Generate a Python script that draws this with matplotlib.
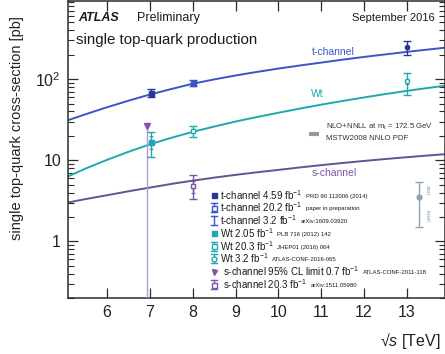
import matplotlib
matplotlib.use("Agg")
import matplotlib.pyplot as plt
from matplotlib.ticker import NullFormatter, LogLocator, FixedLocator

plt.rcParams['font.family'] = ['Liberation Sans', 'DejaVu Sans']
plt.rcParams['mathtext.fontset'] = 'custom'
plt.rcParams['mathtext.rm'] = 'Liberation Sans'
plt.rcParams['mathtext.it'] = 'Liberation Sans:italic'
plt.rcParams['mathtext.bf'] = 'Liberation Sans:bold'

# ---------------- data ----------------
sqrt_s_theory = [5, 5.5, 6, 6.5, 7, 7.5, 8, 8.5, 9, 9.5, 10, 10.5, 11, 11.5, 12, 12.5, 13, 13.5, 14]
theory_t = [30, 36.9, 45, 54.2, 64.6, 75.5, 87.8, 99.2, 111, 122.8, 135, 147.3, 160, 173.8,
            188, 202, 217, 232, 248]
theory_wt = [6.0, 7.9, 10.1, 12.7, 15.7, 18.9, 22.4, 26.0, 30.0, 34.1, 38.5, 43.3, 48.5, 53.8,
             59.5, 65.5, 71.7, 78.0, 84.4]
theory_s = [2.95, 3.32, 3.7, 4.14, 4.6, 5.1, 5.6, 6.1, 6.6, 7.1, 7.6, 8.15, 8.7, 9.25,
            9.8, 10.35, 10.9, 11.45, 12.0]

# measurements
t7_x, t7_y, t7_err, t7_stat = 7.02, 68.0, [8.0, 8.0], 2.4
t8_x, t8_y, t8_err, t8_stat = 8.0, 89.6, [7.1, 7.1], 1.7
t13_x, t13_y, t13_err, t13_stat = 13.0, 247.0, [46.0, 46.0], 12.0
wt7_x, wt7_y, wt7_err, wt7_stat = 7.02, 16.8, [5.7, 5.7], 2.9
wt8_x, wt8_y, wt8_err, wt8_stat = 8.0, 23.0, [3.7, 3.7], 1.4
wt13_x, wt13_y, wt13_err, wt13_stat = 13.0, 94.0, [30.0, 24.0], 7.0
slim7_x, slim7_y = 6.93, 26.5
s8_x, s8_y, s8_err, s8_stat = 8.0, 4.8, [1.5, 1.8], 0.8
leg_x, leg_y, leg_err = 13.28, 3.5, [2.0, 1.85]

xticks = [6, 7, 8, 9, 10, 11, 12, 13]
yticks = [1, 10, 100]
ytick_labels = ['1', '10', '$10^2$']

legend_main = [
    't-channel 4.59 fb$^{-1}$', 't-channel 20.2 fb$^{-1}$', 't-channel 3.2 fb$^{-1}$',
    'Wt 2.05 fb$^{-1}$', 'Wt 20.3 fb$^{-1}$', 'Wt 3.2 fb$^{-1}$',
    's-channel 95% CL limit 0.7 fb$^{-1}$', 's-channel 20.3 fb$^{-1}$']
legend_refs = [
    'PRD 90 112006 (2014)', 'paper in preparation', 'arXiv:1609.03920',
    'PLB 716 (2012) 142', 'JHEP01 (2016) 064', 'ATLAS-CONF-2016-065',
    'ATLAS-CONF-2011-118', 'arXiv:1511.05980']

# ---------------- style ----------------
c_t = '#3b55c8'
c_t_dark = '#2a3596'
c_wt = '#1fa8b0'
c_s = '#5e5596'
c_s_pt = '#7b55a8'
c_slim = '#b596d6'
c_gray = '#8fa3b3'
c_ax = '#2b2b2b'

W, H = 445, 354
fig = plt.figure(figsize=(W / 100, H / 100), dpi=100)
L, R, B, T = 68, 445, 298, 1
ax = fig.add_axes([L / W, (H - B) / H, (R - L) / W, (B - T) / H])
ax.set_yscale('log')
ax.set_xlim(5.09, 13.89)
ax.set_ylim(0.2, 920)

def axfrac(px, py):
    return ((px - L) / (R - L), (B - py) / (B - T))

# theory curves
ax.plot(sqrt_s_theory, theory_t, color=c_t, lw=1.4, zorder=2)
ax.plot(sqrt_s_theory, theory_wt, color=c_wt, lw=1.4, zorder=2)
ax.plot(sqrt_s_theory, theory_s, color=c_s, lw=1.4, zorder=2)

def meas(x, y, err, stat, color, marker, mfc, ms=3.6):
    ax.errorbar([x], [y], yerr=[[err[0]], [err[1]]], fmt='none', ecolor=color,
                elinewidth=1.0, capsize=2.6, capthick=1.0, zorder=4)
    ax.errorbar([x], [y], yerr=[[stat], [stat]], fmt='none', ecolor=color,
                elinewidth=1.0, capsize=1.6, capthick=0.8, zorder=4)
    ax.plot([x], [y], marker=marker, ms=ms, color=color, mfc=mfc, mec=color,
            mew=1.0, zorder=5, ls='none')

meas(t7_x, t7_y, t7_err, t7_stat, c_t_dark, 's', c_t_dark)
meas(t8_x, t8_y, t8_err, t8_stat, c_t, 's', c_t)
meas(t13_x, t13_y, t13_err, t13_stat, c_t_dark, 'o', c_t_dark, ms=3.0)
meas(wt7_x, wt7_y, wt7_err, wt7_stat, c_wt, 's', c_wt)
meas(wt8_x, wt8_y, wt8_err, wt8_stat, c_wt, 's', 'white', ms=2.6)
meas(wt13_x, wt13_y, wt13_err, wt13_stat, c_wt, 'o', 'white', ms=3.0)
meas(s8_x, s8_y, s8_err, s8_stat, c_s_pt, 's', 'white', ms=2.6)

# s-channel limit
ax.plot([slim7_x, slim7_x], [0.2, slim7_y], color=c_slim, lw=1.0, zorder=3)
ax.plot([slim7_x], [slim7_y], marker='v', ms=3.8, color=c_s_pt, zorder=5)

# stat/total legend point
ax.errorbar([leg_x], [leg_y], yerr=[[leg_err[0]], [leg_err[1]]], fmt='o', ms=3.5,
            color=c_gray, elinewidth=1.0, capsize=2.6, capthick=1.0, zorder=4)
ax.text(*axfrac(427, 190), 'stat', transform=ax.transAxes, rotation=-90,
        fontsize=4.5, color=c_gray, ha='center', va='center')
ax.text(*axfrac(427, 216), 'total', transform=ax.transAxes, rotation=-90,
        fontsize=4.5, color=c_gray, ha='center', va='center')

# axes styling
ax.set_xticks(xticks)
ax.set_xticklabels([str(v) for v in xticks])
ax.xaxis.set_minor_locator(FixedLocator([]))
ax.yaxis.set_major_locator(FixedLocator(yticks))
ax.set_yticklabels(ytick_labels)
ax.yaxis.set_minor_locator(LogLocator(base=10, subs=range(2, 10), numticks=20))
ax.yaxis.set_minor_formatter(NullFormatter())
ax.tick_params(axis='both', which='major', direction='in', length=7, width=0.9,
               top=True, right=True, labelsize=11.5, color=c_ax, labelcolor='#222222', pad=5)
ax.tick_params(axis='both', which='minor', direction='in', length=4, width=0.8,
               top=True, right=True, color=c_ax)
for sp in ax.spines.values():
    sp.set_linewidth(1.1)
    sp.set_color(c_ax)

# labels
fig.text(17 / W, 1 - 128 / H, 'single top-quark cross-section [pb]', rotation=90,
         fontsize=10.5, ha='center', va='center', color='#222222')
fig.text(380 / W, 1 - 341 / H, '\u221a$s$ [TeV]', fontsize=11.5, ha='left',
         va='center', color='#222222')

ax.text(*axfrac(78, 18), 'ATLAS', transform=ax.transAxes, fontsize=9,
        fontweight='bold', fontstyle='italic', va='center', ha='left', color='#1a1a1a')
ax.text(*axfrac(137, 18), 'Preliminary', transform=ax.transAxes, fontsize=9,
        va='center', ha='left', color='#1a1a1a')
ax.text(*axfrac(435, 18), 'September 2016', transform=ax.transAxes, fontsize=8,
        va='center', ha='right', color='#1a1a1a')
ax.text(*axfrac(76, 40), 'single top-quark production', transform=ax.transAxes,
        fontsize=10.8, va='center', ha='left', color='#1a1a1a')

# curve labels
ax.text(*axfrac(333, 52), 't-channel', transform=ax.transAxes, fontsize=7.5,
        color=c_t, ha='center', va='center')
ax.text(*axfrac(317, 94), 'Wt', transform=ax.transAxes, fontsize=7.5,
        color=c_wt, ha='center', va='center')
ax.text(*axfrac(334, 173), 's-channel', transform=ax.transAxes, fontsize=7.5,
        color=c_s_pt, ha='center', va='center')

# theory legend
x0, y0 = axfrac(309, 134)
x1, _ = axfrac(319, 134)
ax.plot([x0, x1], [y0, y0], transform=ax.transAxes, color='#9a9a9a', lw=3,
        solid_capstyle='butt', clip_on=False)
ax.text(*axfrac(326, 127), 'NLO+NNLL at m$_{\\rm t}$ = 172.5 GeV', transform=ax.transAxes,
        fontsize=5.6, ha='left', va='center', color='#333333')
ax.text(*axfrac(326, 139), 'MSTW2008 NNLO PDF', transform=ax.transAxes,
        fontsize=5.6, ha='left', va='center', color='#333333')

# measurement legend
rows_y = [195, 207.5, 220, 233, 246, 258.5, 271.5, 284.5]
leg_markers = [('s', c_t_dark, c_t_dark, False), ('s', c_t, 'white', True),
               (None, c_t, None, True), ('s', c_wt, c_wt, False),
               ('s', c_wt, 'white', True), ('o', c_wt, 'white', True),
               ('v', c_s_pt, c_s_pt, False), ('s', c_s_pt, 'white', True)]
for i, (yy, main, ref) in enumerate(zip(rows_y, legend_main, legend_refs)):
    mk, col, mfc, bar = leg_markers[i]
    mx, my = axfrac(214, yy)
    if bar:
        _, ytop = axfrac(214, yy - 4.5)
        _, ybot = axfrac(214, yy + 4.5)
        ax.plot([mx, mx], [ybot, ytop], transform=ax.transAxes, color=col, lw=1.0,
                clip_on=False)
        for yc in (ybot, ytop):
            ax.plot([mx - 0.008, mx + 0.008], [yc, yc], transform=ax.transAxes,
                    color=col, lw=1.0, clip_on=False)
    if mk is not None:
        ax.plot([mx], [my], marker=mk, ms=3.6, color=col, mfc=mfc,
                mec=col, mew=1.0, transform=ax.transAxes, clip_on=False, ls='none')
    tx = 220 if i < 6 else 223
    t = ax.text(*axfrac(tx, yy), main, transform=ax.transAxes, fontsize=7,
                ha='left', va='center', color='#1a1a1a')
    ax.annotate(ref, xy=(1, 0.42), xycoords=t, xytext=(2.5, 0), textcoords='offset points',
                fontsize=4.3, ha='left', va='center', color='#1a1a1a')

fig.savefig('out.png', dpi=100)
